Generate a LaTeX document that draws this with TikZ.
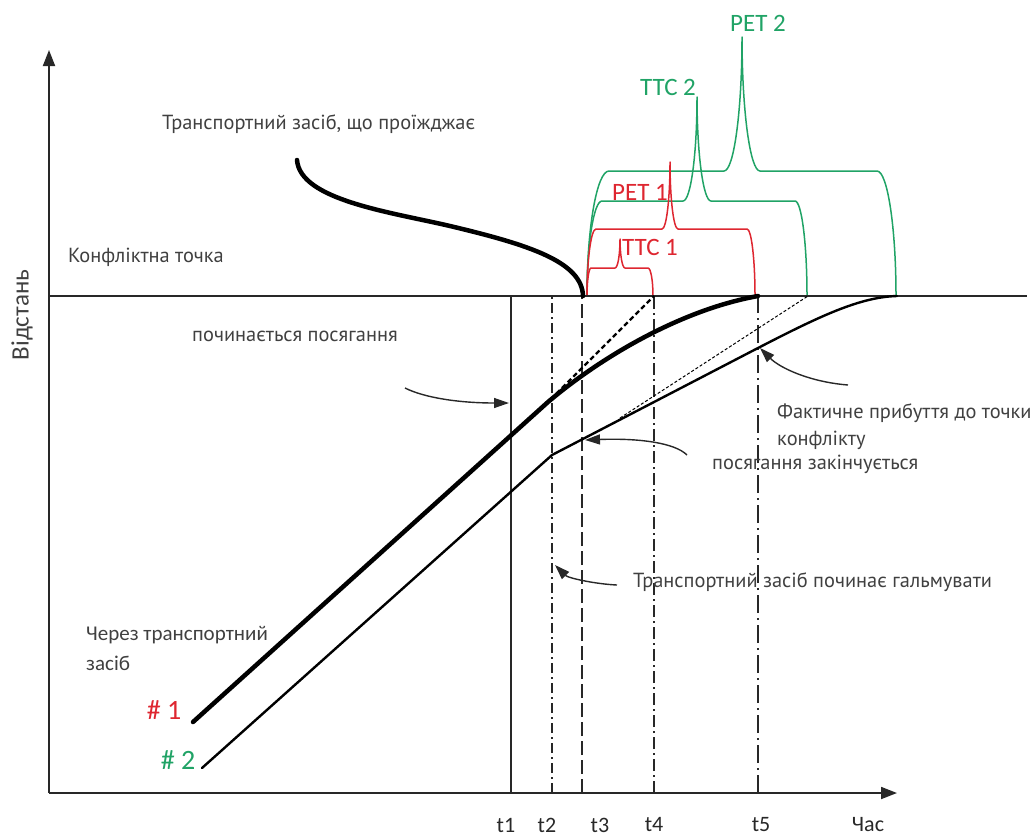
\documentclass[tikz,border=0pt]{standalone}
\usepackage{fontspec}
\setmainfont{PT Sans}
\newfontfamily\calf{Carlito}
\usetikzlibrary{arrows.meta}
\definecolor{pred}{RGB}{222,38,48}
\definecolor{pgreen}{RGB}{32,163,102}
\definecolor{txtgray}{RGB}{64,64,64}
\definecolor{axisc}{RGB}{40,40,40}
% #1 style, #2 L, #3 R, #4 arm y, #5 top y, #6 peak x, #7 left corner, #8 cusp, #9 right corner
\newcommand\bracedraw[9]{%
  \pgfmathsetmacro\brH{296-#4}%
  \pgfmathsetmacro\brC{#4-#5}%
  \draw[#1] (#2,296) .. controls (#2,296-0.55*\brH) and (#2+0.45*#7,#4) .. (#2+#7,#4)
    -- (#6-#8,#4) .. controls (#6-0.45*#8,#4) and (#6,#5+0.55*\brC) .. (#6,#5)
    .. controls (#6,#5+0.55*\brC) and (#6+0.45*#8,#4) .. (#6+#8,#4)
    -- (#3-#9,#4) .. controls (#3-0.45*#9,#4) and (#3,296-0.55*\brH) .. (#3,296);}
\begin{document}
\begin{tikzpicture}[x=1pt,y=-1pt,
  axis/.style={line width=1.8pt, draw=axisc, -{Triangle[length=16pt,width=12pt]}},
  thin line/.style={line width=1.4pt, draw=axisc},
  gtext/.style={font=\fontsize{20.4}{23}\selectfont, text=txtgray, inner sep=0pt, anchor=west},
  ctext/.style={font=\calf\fontsize{21}{24}\selectfont, text=txtgray, inner sep=0pt, anchor=west},
  tlab/.style={font=\calf\fontsize{22}{24}\selectfont, text=axisc, inner sep=0pt},
  blab/.style={font=\calf\fontsize{25}{28}\selectfont, inner sep=0pt},
  hlab/.style={font=\calf\fontsize{28}{30}\selectfont, inner sep=0pt},
  brace/.style={line width=1.5pt, line join=round},
  annot/.style={line width=1.4pt, draw=axisc, -{Triangle[length=15pt,width=10pt]}},
  heavy/.style={line width=4.5pt, draw=black, line cap=round},
]
\useasboundingbox (0,0) rectangle (1035,838);

% coordinates
\coordinate (o) at (49,793);
\coordinate (ytop) at (49,50);
\coordinate (xend) at (897,793);
\coordinate (cl0) at (49,296);
\coordinate (cl1) at (1027,296);
\foreach \n/\x in {1/511,2/552,3/582,4/654,5/758}{
  \coordinate (b\n) at (\x,793);
  \coordinate (u\n) at (\x,296);
}

% braces
\bracedraw{brace,draw=pgreen}{587}{896}{171}{37}{742}{22}{18}{19}
\bracedraw{brace,draw=pgreen}{587}{807}{201}{97}{697}{15}{14}{12}
\bracedraw{brace,draw=pred}{587}{755}{229}{162}{670}{9}{8}{8}
\bracedraw{brace,draw=pred}{587}{653}{268}{239}{620}{4}{5}{5}

\node[blab,text=pgreen] (pet2) at (758,23) {PET 2};
\node[blab,text=pgreen] (ttc2) at (668,87) {TTC 2};
\node[blab,text=pred] (pet1) at (640,192) {PET 1};
\node[blab,text=pred] (ttc1) at (650,247) {TTC 1};

% axes and conflict line
\draw[axis] (o) -- (ytop);
\draw[axis] (o) -- (xend);
\draw[thin line] (cl0) -- (cl1);

% time lines
\draw[thin line] (b1) -- (u1);
\draw[thin line, dash pattern=on 10pt off 4pt on 2pt off 4pt] (b2) -- (u2);
\draw[thin line, dash pattern=on 14pt off 5pt] (b3) -- (u3);
\draw[thin line, dash pattern=on 12pt off 4pt on 2pt off 4pt] (b4) -- (u4);
\draw[thin line, dash pattern=on 18pt off 5pt on 2pt off 5pt] (b5) -- (u5);

% trajectories
\coordinate (s1) at (193,722);
\coordinate (k1) at (548,402);
\coordinate (e1) at (758,296);
\draw[heavy] (s1) -- (k1) .. controls (600,358) and (680,310) .. (e1);
\coordinate (s2) at (202,768);
\coordinate (k2) at (552,455);
\coordinate (m2) at (758,348);
\coordinate (e2) at (897,296);
\draw[line width=2.4pt, line cap=round, line join=round] (s2) -- (k2) -- (m2) .. controls (820,316) and (860,297) .. (e2);
\coordinate (ps) at (297,160);
\coordinate (pm) at (450,226);
\coordinate (pe) at (583,296);
\draw[heavy] (ps) .. controls (300,200) and (390,212) .. (pm) .. controls (530,245) and (582,262) .. (pe);

% projected (dashed) paths
\coordinate (d1s) at (545,405);
\draw[line width=2.2pt, dash pattern=on 5pt off 3pt] (d1s) -- (u4);
\coordinate (d2s) at (620,418);
\coordinate (d2e) at (808,296);
\draw[line width=1pt, dash pattern=on 3pt off 2pt] (d2s) -- (d2e);

% labels
\node[gtext] (passing) at (162,124) {Транспортний засіб, що проїжджає};
\node[gtext] (cpoint) at (68,257) {Конфліктна точка};
\node[gtext] (enc1) at (192,336) {починається посягання};
\node[gtext] (arr1) at (777,413) {Фактичне прибуття до точки};
\node[gtext] (arr2) at (777,440) {конфлікту};
\node[gtext] (enc2) at (712,464) {посягання закінчується};
\node[gtext] (brk) at (633,582) {Транспортний засіб починає гальмувати};
\node[ctext] (thr1) at (86,635) {Через транспортний};
\node[ctext] (thr2) at (86,663) {засіб};
\node[hlab,text=pred] (h1) at (164,710) {\# 1};
\node[hlab,text=pgreen] (h2) at (178,760) {\# 2};
\node[font=\calf\fontsize{25}{28}\selectfont, text=txtgray, rotate=90, inner sep=0pt] (ylab) at (22,315) {Відстань};
\node[tlab] (t1) at (506,825) {t1};
\node[tlab] (t2) at (547,825) {t2};
\node[tlab] (t3) at (600,825) {t3};
\node[tlab] (t4) at (654,825) {t4};
\node[tlab] (t5) at (761,825) {t5};
\node[tlab] (chas) at (868,825) {Час};

% annotation arrows
\coordinate (a1s) at (405,388); \coordinate (a1e) at (509,403);
\draw[annot] (a1s) .. controls (425,398) and (460,403) .. (a1e);
\coordinate (a2s) at (687,455); \coordinate (a2e) at (585,440);
\draw[annot] (a2s) .. controls (675,443) and (640,438) .. (a2e);
\coordinate (a3s) at (848,385); \coordinate (a3e) at (760,348);
\draw[annot] (a3s) .. controls (810,382) and (780,368) .. (a3e);
\coordinate (a4s) at (617,585); \coordinate (a4e) at (555,565);
\draw[annot] (a4s) .. controls (595,584) and (568,578) .. (a4e);
\end{tikzpicture}
\end{document}
